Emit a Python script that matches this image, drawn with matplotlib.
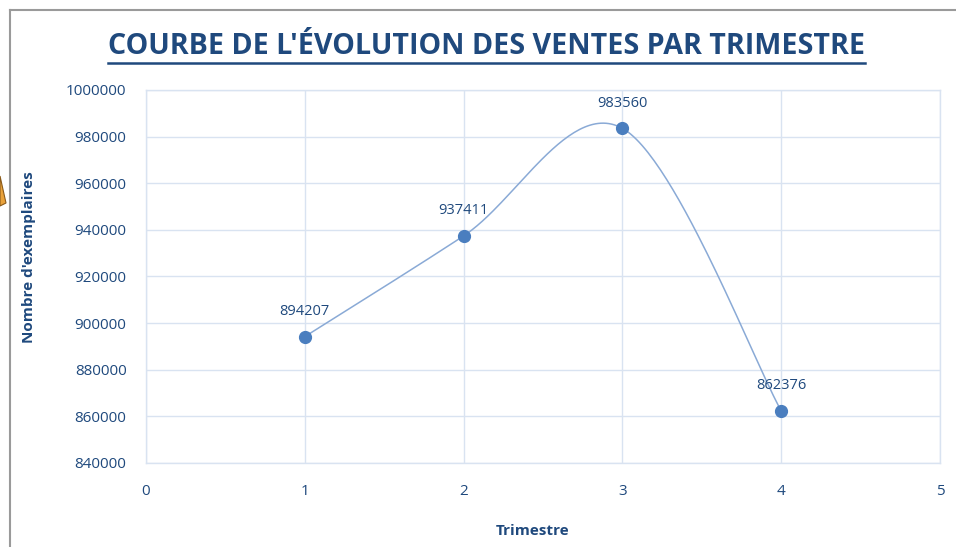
import numpy as np
import matplotlib
matplotlib.use("Agg")
import matplotlib.pyplot as plt
from matplotlib.lines import Line2D
from matplotlib.patches import Polygon

# ---- data ----
trimestres = [1, 2, 3, 4]
ventes = [894207, 937411, 983560, 862376]
x_ticks = [0, 1, 2, 3, 4, 5]
y_ticks = [840000, 860000, 880000, 900000, 920000, 940000, 960000, 980000, 1000000]
title = "COURBE DE L'ÉVOLUTION DES VENTES PAR TRIMESTRE"
xlabel = "Trimestre"
ylabel = "Nombre d'exemplaires"

DARK = "#1F497D"
MARK = "#4A7EBF"
LINE = "#8AAAD6"
GRID = "#D9E3F1"
FONT = ["Open Sans", "DejaVu Sans"]

W, H = 956, 547
fig = plt.figure(figsize=(W / 100, H / 100), dpi=100)
fig.patch.set_facecolor("white")

ax = fig.add_axes([146 / W, 1 - 463 / H, (940 - 146) / W, (463 - 90) / H])

# Excel-style smoothed line (Catmull-Rom as cubic Bezier)
px = np.array(trimestres, dtype=float)
py = np.array(ventes, dtype=float)
n = len(px)
xs, ys = [], []
t = np.linspace(0, 1, 60)
for i in range(n - 1):
    p0 = np.array([px[i], py[i]])
    p3 = np.array([px[i + 1], py[i + 1]])
    pm = np.array([px[max(i - 1, 0)], py[max(i - 1, 0)]])
    pp = np.array([px[min(i + 2, n - 1)], py[min(i + 2, n - 1)]])
    c1 = p0 + (p3 - pm) / 6
    c2 = p3 - (pp - p0) / 6
    b = ((1 - t) ** 3)[:, None] * p0 + (3 * (1 - t) ** 2 * t)[:, None] * c1 \
        + (3 * (1 - t) * t ** 2)[:, None] * c2 + (t ** 3)[:, None] * p3
    xs.extend(b[:, 0]); ys.extend(b[:, 1])
ax.plot(xs, ys, color=LINE, lw=1.1, zorder=3)
ax.plot(trimestres, ventes, "o", color=MARK, ms=8.5, zorder=4)

for xv, yv in zip(trimestres, ventes):
    ax.annotate(str(yv), (xv, yv), xytext=(0, 18), textcoords="offset points",
                ha="center", va="center", color=DARK, fontsize=10.5,
                family=FONT, zorder=5)

ax.set_xlim(0, 5)
ax.set_ylim(840000, 1000000)
ax.set_xticks(x_ticks)
ax.set_yticks(y_ticks)
ax.set_xticklabels([str(v) for v in x_ticks])
ax.set_yticklabels([str(v) for v in y_ticks])
ax.grid(True, color=GRID, lw=1.0)
ax.set_axisbelow(True)
for s in ax.spines.values():
    s.set_color(GRID)
    s.set_linewidth(1.0)
ax.tick_params(length=0, colors=DARK, labelsize=11)
ax.tick_params(axis="y", pad=14)
ax.tick_params(axis="x", pad=15)
for lab in ax.get_xticklabels() + ax.get_yticklabels():
    lab.set_family(FONT)

ax.set_xlabel(xlabel, color=DARK, fontsize=11, fontweight="bold", family=FONT)
ax.set_ylabel(ylabel, color=DARK, fontsize=11, fontweight="bold", family=FONT)
ax.xaxis.set_label_coords((533 - 146) / (940 - 146), -(524 - 463) / (463 - 90))
ax.yaxis.set_label_coords(-(146 - 36) / (940 - 146), (463 - 257) / (463 - 90))

# title with underline
tt = fig.text(486 / W, 1 - 46 / H, title, ha="center", va="center", color=DARK,
              fontsize=20.6, fontweight="bold", family=FONT)
fig.canvas.draw()
bb = tt.get_window_extent(renderer=fig.canvas.get_renderer())
fig.add_artist(Line2D([bb.x0 / W, bb.x1 / W], [1 - 62.5 / H, 1 - 62.5 / H],
                      transform=fig.transFigure, color=DARK, lw=1.8))

# frame of the screenshot
fig.add_artist(Line2D([10 / W, 1], [1 - 9.5 / H, 1 - 9.5 / H], transform=fig.transFigure,
                      color="#9A9A9A", lw=1.5))
fig.add_artist(Line2D([10 / W, 10 / W], [0, 1 - 9.5 / H], transform=fig.transFigure,
                      color="#9A9A9A", lw=1.5))
tri = Polygon([[0, 1 - 176 / H], [6 / W, 1 - 203 / H], [0, 1 - 206 / H]],
              closed=True, transform=fig.transFigure, facecolor="#E9A23B",
              edgecolor="#8A5A1A", lw=0.8)
fig.add_artist(tri)

fig.savefig("out.png", dpi=100, facecolor="white")
